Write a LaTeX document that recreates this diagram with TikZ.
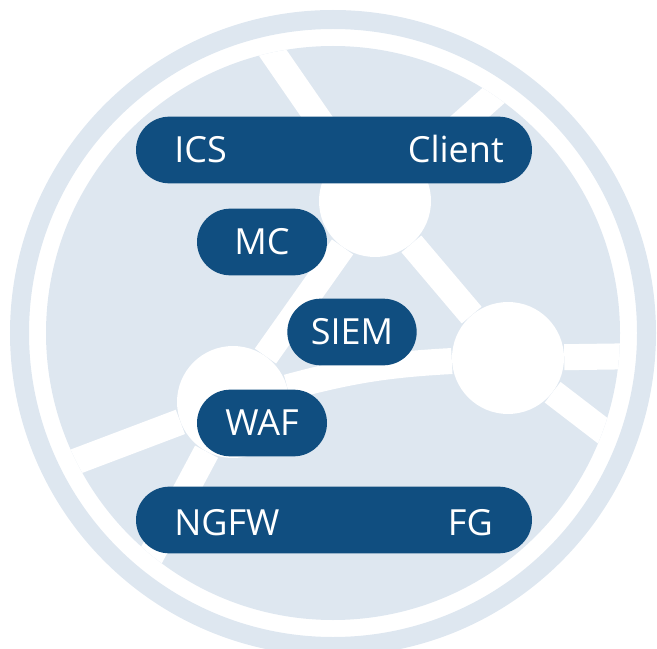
\documentclass[tikz,border=0pt]{standalone}
\usepackage{fontspec}
\setmainfont{Open Sans}
\usetikzlibrary{shapes.misc}
\definecolor{netpale}{RGB}{222,231,240}
\definecolor{netblue}{RGB}{16,78,128}

\begin{document}
\begin{tikzpicture}[x=0.75pt, y=0.75pt,
  hub/.style={circle, fill=white, minimum size=84pt, inner sep=0pt},
  link/.style={white, line width=19.5pt},
  pill/.style={rounded rectangle, fill=netblue, text=white, inner sep=0pt,
    minimum height=50pt, font=\fontsize{27}{32}\selectfont,
    text height=19.2pt, text depth=0pt},
  lbl/.style={text=white, inner sep=0pt, font=\fontsize{27}{32}\selectfont}]
  \useasboundingbox (0,0) rectangle (657,-649);
  % ring and disc
  \draw[netpale, line width=14.25pt] (333,-333) circle (313.5);
  \fill[netpale] (333,-333) circle (287);
  % network hubs
  \node[hub] (hubT) at (375,-201) {};
  \node[hub] (hubL) at (233,-402) {};
  \node[hub] (hubR) at (508,-358) {};
  \coordinate (eA) at (259,-33);
  \coordinate (eB) at (539,-55);
  \coordinate (eW) at (40,-475);
  \coordinate (eE) at (650,-356);
  \coordinate (eF) at (650,-467);
  \coordinate (eG) at (135,-586);
  \begin{scope}
    \clip (333,-333) circle (287);
    \draw[link] (hubT) -- (eA);
    \draw[link] (hubT) -- (eB);
    \draw[link] (hubT) -- (hubL);
    \draw[link] (hubT) -- (hubR);
    \draw[link] (eW) -- (hubL);
    \draw[link] (hubL) to[bend left=6] (hubR);
    \draw[link] (hubR) -- (eE);
    \draw[link] (hubR) -- (eF);
    \draw[link] (hubL) -- (eG);
  \end{scope}
  % labels
  \node[pill, minimum width=297pt] (barTop) at (334,-150) {};
  \node[lbl, anchor=base west] (ics) at (174,-163) {ICS};
  \node[lbl, anchor=base east] (client) at (504,-163) {Client};
  \node[pill, minimum width=97.5pt] (mc) at (262,-242) {MC};
  \node[pill, minimum width=97pt] (siem) at (352,-332) {SIEM};
  \node[pill, minimum width=97.5pt] (waf) at (262,-423) {WAF};
  \node[pill, minimum width=297pt] (barBot) at (334,-520) {};
  \node[lbl, anchor=base west] (ngfw) at (174,-535) {NGFW};
  \node[lbl, anchor=base east] (fg) at (493,-535) {FG};
\end{tikzpicture}
\end{document}
